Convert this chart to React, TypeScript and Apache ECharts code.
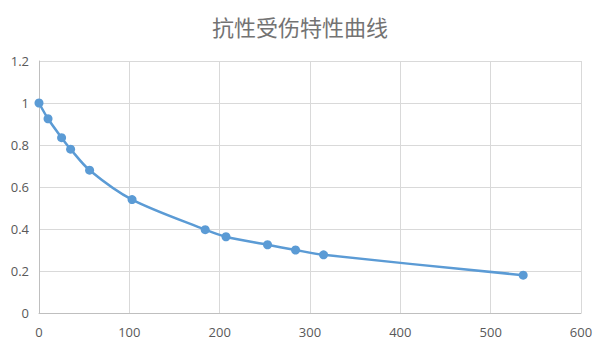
import React, { useEffect, useRef } from "react";
import * as echarts from "echarts";

const titleText = "抗性受伤特性曲线";
const xValues = [0, 10, 25, 35, 56, 103, 184, 207, 253, 284, 315, 536];
const yValues = [1.0, 0.925, 0.835, 0.78, 0.68, 0.54, 0.397, 0.363, 0.325, 0.3, 0.277, 0.18];

export default function App() {
  const ref = useRef<HTMLDivElement>(null);
  useEffect(() => {
    const chart = echarts.init(ref.current!, null, { renderer: "svg" });
    const labelStyle = { color: "#595959", fontSize: 13, fontFamily: "Open Sans, sans-serif" };
    chart.setOption({
      animation: false,
      title: {
        text: titleText,
        left: "center",
        top: 10,
        textStyle: { color: "#737373", fontSize: 22, fontWeight: "normal", fontFamily: "Noto Sans CJK SC" },
      },
      grid: { left: 39, right: 19, top: 61, bottom: 35, containLabel: false },
      xAxis: {
        type: "value",
        min: 0,
        max: 600,
        interval: 100,
        axisLine: { show: true, lineStyle: { color: "#bfbfbf" } },
        axisTick: { show: false },
        axisLabel: { ...labelStyle, margin: 12 },
        splitLine: { show: true, lineStyle: { color: "#d9d9d9" } },
      },
      yAxis: {
        type: "value",
        min: 0,
        max: 1.2,
        interval: 0.2,
        axisLine: { show: true, lineStyle: { color: "#bfbfbf" } },
        axisTick: { show: false },
        axisLabel: { ...labelStyle, margin: 10, formatter: (v: number) => String(Math.round(v * 10) / 10) },
        splitLine: { show: true, lineStyle: { color: "#d9d9d9" } },
      },
      series: [
        {
          type: "line",
          data: xValues.map((x, i) => [x, yValues[i]]),
          smooth: 0.3,
          symbol: "circle",
          symbolSize: 9,
          lineStyle: { color: "#5b9bd5", width: 2.5 },
          itemStyle: { color: "#5b9bd5" },
        },
      ],
    });
    return () => chart.dispose();
  }, []);
  return <div ref={ref} style={{ width: 600, height: 348, position: "absolute", left: 0, top: 0, background: "#fff" }} />;
}
